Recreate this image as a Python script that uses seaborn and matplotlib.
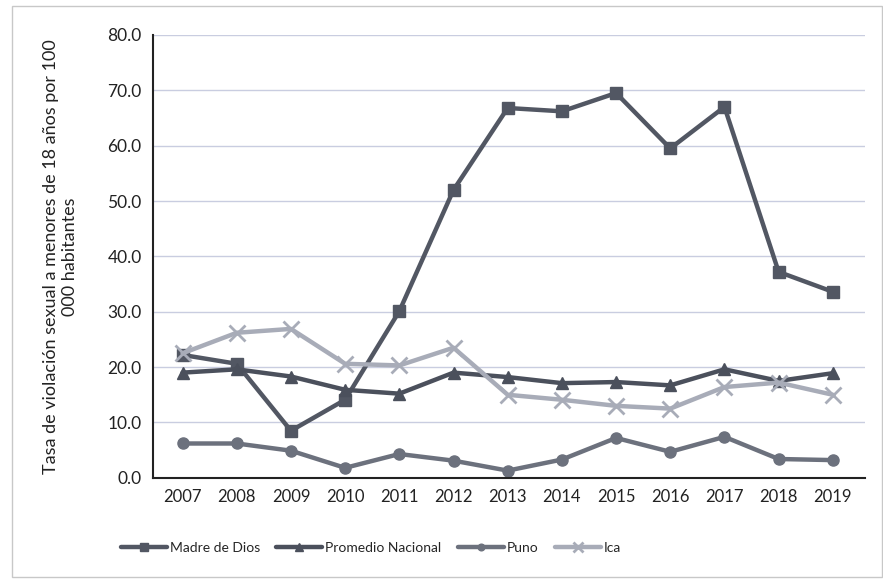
import numpy as np
import pandas as pd
import matplotlib
matplotlib.use("Agg")
import matplotlib.pyplot as plt
import seaborn as sns
from matplotlib.patches import Rectangle

# data
years = ["2007", "2008", "2009", "2010", "2011", "2012", "2013",
         "2014", "2015", "2016", "2017", "2018", "2019"]
madre_de_dios = [22.2, 20.6, 8.5, 14.1, 30.1, 52.0, 66.8, 66.2, 69.5, 59.5, 67.0, 37.2, 33.6]
promedio_nacional = [19.0, 19.6, 18.3, 15.9, 15.2, 19.0, 18.2, 17.1, 17.3, 16.7, 19.6, 17.5, 18.9]
puno = [6.2, 6.2, 4.9, 1.8, 4.3, 3.1, 1.3, 3.3, 7.2, 4.7, 7.4, 3.4, 3.2]
ica = [22.5, 26.2, 26.9, 20.6, 20.3, 23.5, 15.0, 14.1, 13.0, 12.5, 16.4, 17.2, 15.0]

series = {
    "Madre de Dios": madre_de_dios,
    "Promedio Nacional": promedio_nacional,
    "Puno": puno,
    "Ica": ica,
}
colors = {"Madre de Dios": "#525763", "Promedio Nacional": "#4b505c",
          "Puno": "#6c717d", "Ica": "#a8acb8"}
markers = {"Madre de Dios": "s", "Promedio Nacional": "^", "Puno": "o", "Ica": "x"}
msizes = {"Madre de Dios": 9, "Promedio Nacional": 9, "Puno": 8, "Ica": 11}

sns.set_theme(style="white")
plt.rcParams['font.family'] = ['Lato', 'DejaVu Sans']

fig = plt.figure(figsize=(8.83, 5.82), dpi=100)
ax = fig.add_axes([0.173, 0.179, 0.807, 0.761])

x = np.arange(len(years))
for name, vals in series.items():
    df = pd.DataFrame({"x": x, "y": vals})
    mew = 2 if markers[name] == "x" else 1
    sns.lineplot(data=df, x="x", y="y", ax=ax, color=colors[name], linewidth=3.2,
                 label=name, marker=markers[name], markersize=msizes[name],
                 markeredgewidth=mew, markeredgecolor=colors[name])

ax.set_xlim(-0.55, 12.6)
ax.set_ylim(0, 80)
ax.set_yticks(np.arange(0, 81, 10))
ax.set_yticklabels([f"{v:.1f}" for v in np.arange(0, 81, 10)], fontsize=12.5, color="#222222")
ax.set_xticks(x)
ax.set_xticklabels(years, fontsize=12, color="#222222")
ax.tick_params(axis="both", length=0, pad=8)
ax.grid(axis="y", color="#c9cde0", linewidth=1)
ax.set_axisbelow(True)
for s in ["top", "right"]:
    ax.spines[s].set_visible(False)
for s in ["left", "bottom"]:
    ax.spines[s].set_color("#222222")
    ax.spines[s].set_linewidth(1.5)
ax.set_xlabel("")
ax.set_ylabel("Tasa de violación sexual a menores de 18 años por 100\n000 habitantes",
              fontsize=13, color="#222222")
ax.yaxis.set_label_coords(-0.105, 0.5)

ax.legend(loc="center", bbox_to_anchor=(0.42, 0.058), bbox_transform=fig.transFigure,
          ncol=4, frameon=False, fontsize=10, handlelength=3.3, columnspacing=1.2,
          handletextpad=0.2, markerscale=0.6)

fig.patches.append(Rectangle((0.014, 0.008), 0.985, 0.982, transform=fig.transFigure,
                             fill=False, edgecolor="#c8c8c8", linewidth=1))

fig.savefig("out.png", dpi=100)
